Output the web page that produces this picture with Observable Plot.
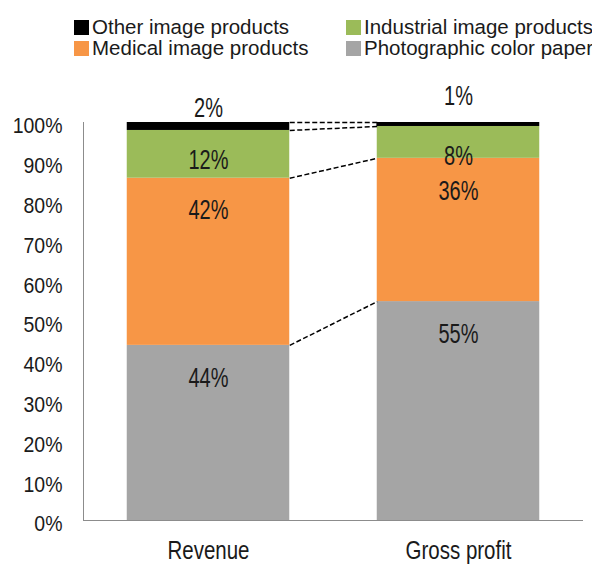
<!DOCTYPE html>
<html><head><meta charset="utf-8">
<script src="https://cdn.jsdelivr.net/npm/d3@7"></script>
<script src="https://cdn.jsdelivr.net/npm/@observablehq/plot@0.6"></script>
<style>
body{margin:0;background:#fff;overflow:hidden;width:592px;height:565px}
#legend{position:relative;height:70px;font-family:"Liberation Sans",Arial,sans-serif;font-size:20.5px;line-height:20px;color:#1a1a1a;white-space:nowrap}
.item{position:absolute;display:flex;align-items:center;height:20px}
.sw{width:15px;height:15px;margin-right:3px;flex:none}
</style></head><body>
<div id="legend"></div>
<div id="chart"></div>
<script>
const categories = ["Revenue", "Gross profit"];
const seriesNames = ["Photographic color paper", "Medical image products", "Industrial image products", "Other image products"];
const photographic = [44, 55];
const medical = [42, 36];
const industrial = [12, 8];
const other = [2, 1];
const colors = ["#A5A5A5", "#F79646", "#9BBB59", "#000000"];
const yTicks = [0, 10, 20, 30, 40, 50, 60, 70, 80, 90, 100];
const legendOrder = ["Other image products", "Industrial image products", "Medical image products", "Photographic color paper"];

const values = [photographic, medical, industrial, other];
const half = 0.325;

// stacked rows
const rows = [];
categories.forEach((c, i) => {
  let acc = 0;
  values.forEach((arr, s) => {
    rows.push({cat: c, i, series: seriesNames[s], s, y1: acc, y2: acc + arr[i], v: arr[i]});
    acc += arr[i];
  });
});
// connector lines between cumulative boundaries
const links = values.map((arr, s) => ({
  a: rows.find(r => r.i === 0 && r.s === s).y2,
  b: rows.find(r => r.i === 1 && r.s === s).y2
}));

// legend
const leg = document.getElementById("legend");
const pos = [[74, 17], [346, 17], [74, 38], [346, 38]];
legendOrder.forEach((name, k) => {
  const d = document.createElement("div");
  d.className = "item";
  d.style.left = pos[k][0] + "px";
  d.style.top = pos[k][1] + "px";
  const sw = document.createElement("span");
  sw.className = "sw";
  sw.style.background = colors[seriesNames.indexOf(name)];
  d.appendChild(sw);
  const t = document.createElement("span");
  t.textContent = name;
  d.appendChild(t);
  leg.appendChild(d);
});

const reg = "'Liberation Sans',Arial,sans-serif";
const lab = {fontFamily: reg, fontSize: 20, fill: "#1a1a1a"};

const chart = Plot.plot({
  width: 592,
  height: 495,
  marginLeft: 83,
  marginRight: 9,
  marginTop: 52,
  marginBottom: 45,
  style: {fontFamily: reg, background: "#fff", color: "#1a1a1a"},
  x: {type: "linear", domain: [-0.5, 1.5]},
  y: {domain: [0, 100]},
  color: {domain: seriesNames, range: colors},
  marks: [
    Plot.rect(rows, {x1: d => d.i - half, x2: d => d.i + half, y1: "y1", y2: "y2", fill: "series"}),
    Plot.link(links, {x1: 0 + half, x2: 1 - half, y1: "a", y2: "b", stroke: "#000", strokeWidth: 1.5, strokeDasharray: "5,2.5"}),
    Plot.ruleX([1 - half], {y1: links[2].b, y2: links[3].b, stroke: "#000", strokeWidth: 1.5, strokeDasharray: "3,2"}),
    Plot.ruleX([-0.5], {y1: 0, y2: 100, stroke: "#8c8c8c", strokeWidth: 1}),
    Plot.ruleY([0], {stroke: "#8c8c8c", strokeWidth: 1}),
    Plot.text(rows.filter(r => r.s < 2), {x: "i", y: "y2", text: d => d.v + "%", dy: 32, ...lab}),
    Plot.text(rows.filter(r => r.s === 2), {x: "i", y: "y2", text: d => d.v + "%", dy: 29, ...lab}),
    Plot.text(rows.filter(r => r.s === 3 && r.i === 0), {x: "i", y: "y2", text: d => d.v + "%", dy: -15, ...lab}),
    Plot.text(rows.filter(r => r.s === 3 && r.i === 1), {x: "i", y: "y2", text: d => d.v + "%", dy: -27, ...lab}),
    Plot.axisY({ticks: yTicks, tickSize: 0, tickPadding: 21, tickFormat: d => d + "%", fontSize: 19.5, dy: 4, fill: "#1a1a1a", label: null}),
    Plot.axisX({ticks: [0, 1], tickSize: 0, tickPadding: 22, tickFormat: i => categories[i], fontSize: 20.5, fill: "#1a1a1a", label: null})
  ]
});
document.getElementById("chart").appendChild(chart);

// emulate the reference's tall, condensed lettering by stretching text vertically
function stretch(selector, k) {
  chart.querySelectorAll(selector).forEach(el => {
    const b = el.getBBox();
    const cx = b.x + b.width / 2, cy = b.y + b.height / 2;
    const t = el.getAttribute("transform") || "";
    el.setAttribute("transform", `${t} translate(${cx},${cy}) scale(1,${k}) translate(${-cx},${-cy})`);
  });
}
stretch('g[aria-label="text"] text', 1.4);
stretch('g[aria-label="x-axis tick label"] text', 1.3);
stretch('g[aria-label="y-axis tick label"] text', 1.1);
</script></body></html>
